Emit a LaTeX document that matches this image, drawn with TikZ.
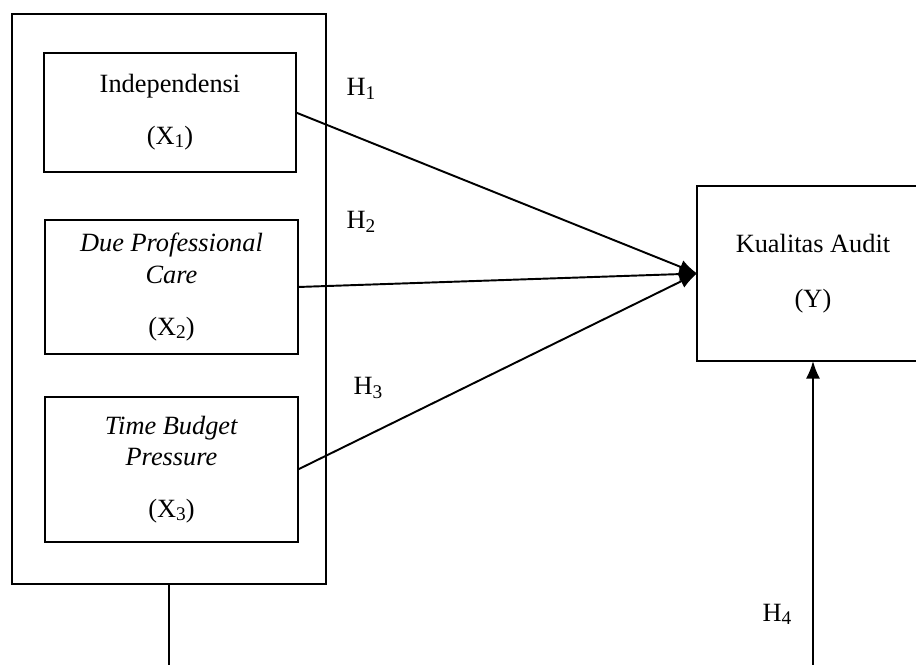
\documentclass[tikz,border=0pt]{standalone}
\usepackage{fontspec}
\setmainfont{Liberation Serif}
\usepackage{tikz}
\usetikzlibrary{arrows.meta,calc,positioning}
\tikzstyle{var} = [rectangle, draw=black, line width=1.4pt, align=center,
inner sep=0pt, outer sep=0pt]
\tikzstyle{arrow} = [line width=1.1pt,-{Latex[length=10pt,width=8pt]}]
\tikzstyle{hyp} = [anchor=base, inner sep=0pt]
\newcommand{\sbs}[1]{\raisebox{-0.25ex}{\fontsize{11}{12}\selectfont #1}}

\begin{document}
\begin{tikzpicture}[x=0.02cm, y=-0.02cm, font=\fontsize{15}{18}\selectfont]
            \useasboundingbox (0,0) rectangle (916,665);
            \clip (0,0) rectangle (916,665);
            \coordinate (bot) at (0,665);
            \node[var, minimum width=6.28cm, minimum height=11.4cm] (frame) at (169,299) {};
            \node[var, minimum width=5.04cm, minimum height=2.38cm] (x1) at (170,112.5)
            {Independensi\\[11.5pt](X\sbs{1})};
            \node[var, minimum width=5.06cm, minimum height=2.68cm] (x2) at (171.5,287)
            {\textit{Due Professional}\\\textit{Care}\\[11.5pt](X\sbs{2})};
            \node[var, minimum width=5.06cm, minimum height=2.9cm] (x3) at (171.5,469.5)
            {\textit{Time Budget}\\\textit{Pressure}\\[11.5pt](X\sbs{3})};
            \node[var, minimum width=4.64cm, minimum height=3.5cm] (y) at (813,273.5)
            {Kualitas Audit\\[13pt](Y)};
            \draw [arrow] (x1.east) -- (y.west);
            \draw [arrow] (x2.east) -- (y.west);
            \draw [arrow] (x3.east) -- (y.west);
            \draw [line width=1.1pt] (frame.south) -- (frame.south |- bot);
            \draw [arrow] (y.south |- bot) -- (y.south);
            \node[hyp] (h1) at (361,96) {H\sbs{1}};
            \node[hyp] (h2) at (361,229) {H\sbs{2}};
            \node[hyp] (h3) at (368,395) {H\sbs{3}};
            \node[hyp] (h4) at (777,621) {H\sbs{4}};
        \end{tikzpicture}
\end{document}
